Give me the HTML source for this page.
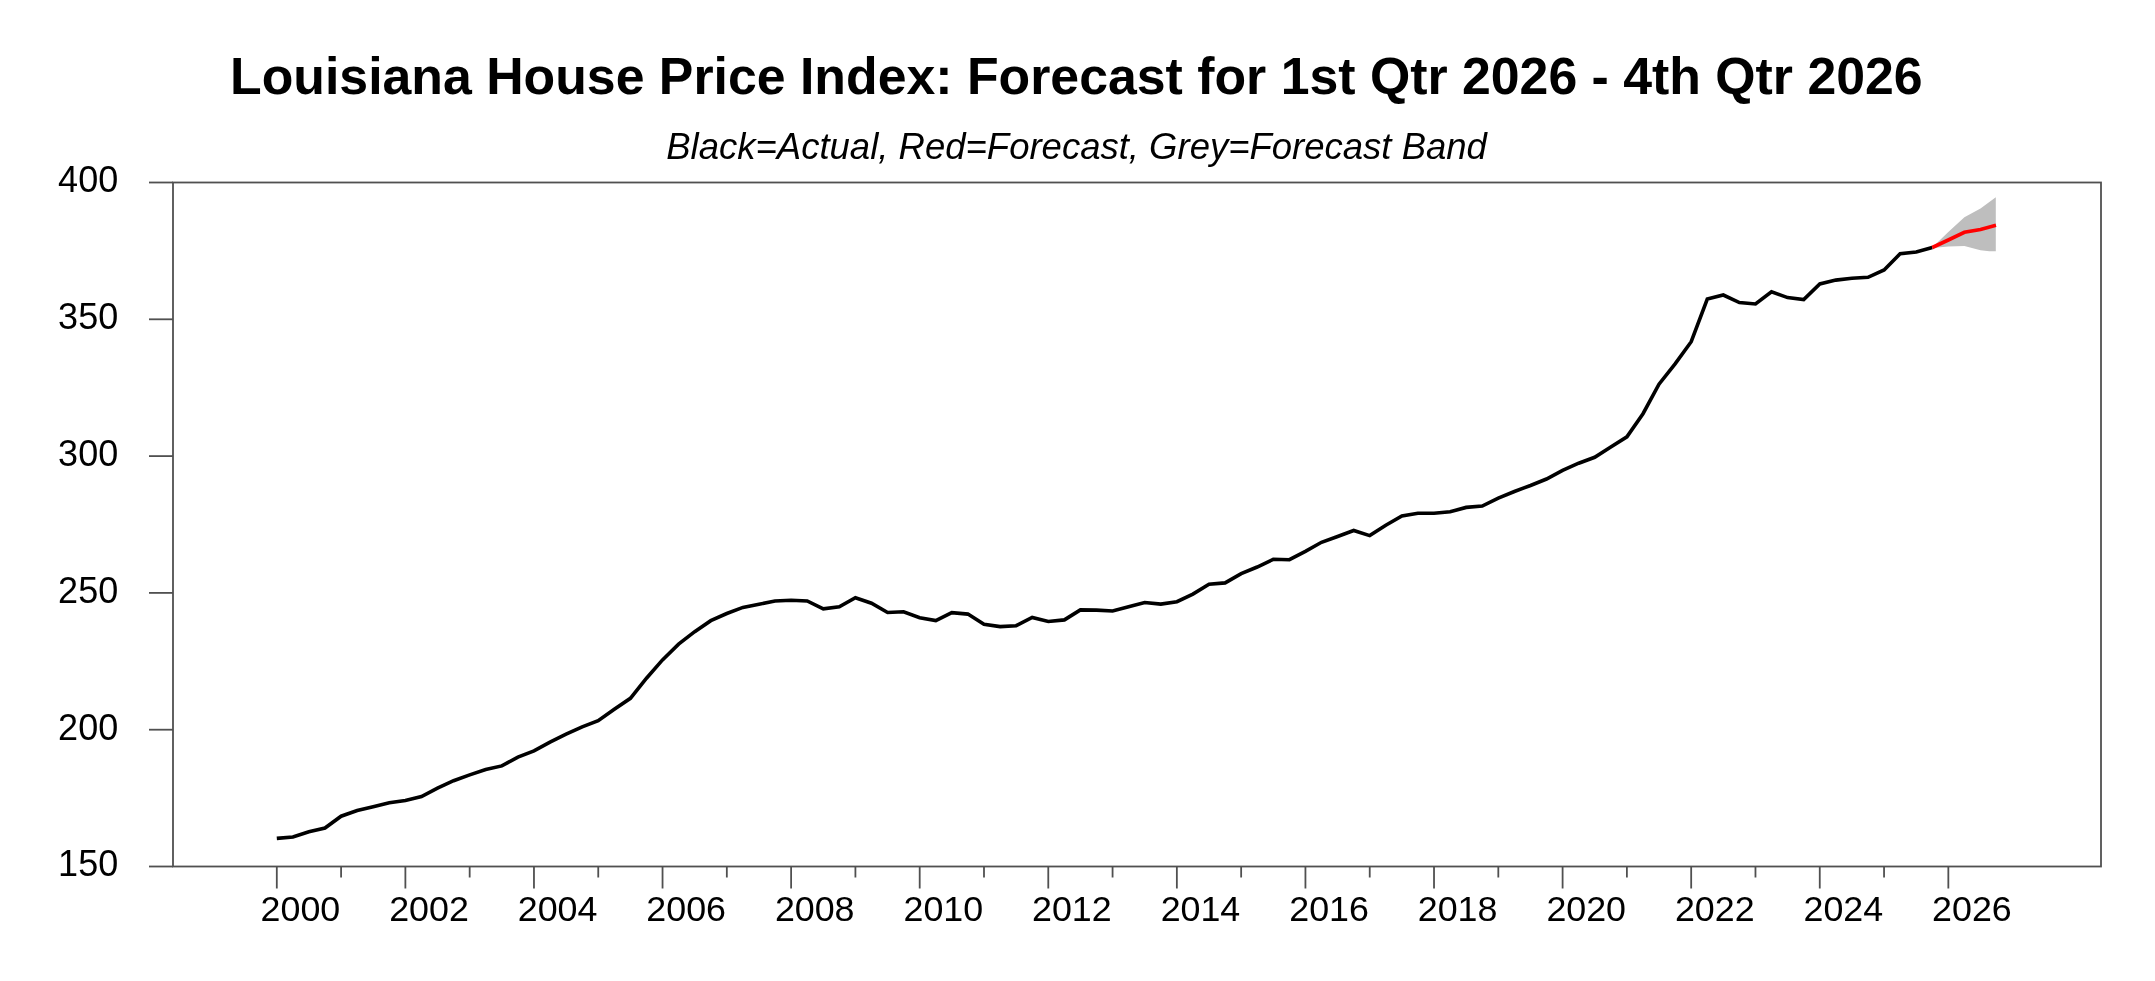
<!DOCTYPE html>
<html><head><meta charset="utf-8"><style>
html,body{margin:0;padding:0;background:#fff;width:2155px;height:981px;overflow:hidden}
svg{display:block;will-change:transform}
text{font-family:"Liberation Sans",sans-serif;fill:#000}
.title{font-weight:bold;font-size:51.8px}
.sub{font-style:italic;font-size:36.5px}
.yl{font-size:36px}
.xl{font-size:35.8px}
</style></head><body>
<svg width="2155" height="981" viewBox="0 0 2155 981">
<rect x="173" y="182.5" width="1928" height="684.0" fill="none" stroke="#505050" stroke-width="1.8"/>
<line x1="149" y1="866.50" x2="173" y2="866.50" stroke="#505050" stroke-width="1.8"/>
<text class="yl" x="118.2" y="876.30" text-anchor="end">150</text>
<line x1="149" y1="729.70" x2="173" y2="729.70" stroke="#505050" stroke-width="1.8"/>
<text class="yl" x="118.2" y="739.50" text-anchor="end">200</text>
<line x1="149" y1="592.90" x2="173" y2="592.90" stroke="#505050" stroke-width="1.8"/>
<text class="yl" x="118.2" y="602.70" text-anchor="end">250</text>
<line x1="149" y1="456.10" x2="173" y2="456.10" stroke="#505050" stroke-width="1.8"/>
<text class="yl" x="118.2" y="465.90" text-anchor="end">300</text>
<line x1="149" y1="319.30" x2="173" y2="319.30" stroke="#505050" stroke-width="1.8"/>
<text class="yl" x="118.2" y="329.10" text-anchor="end">350</text>
<line x1="149" y1="182.50" x2="173" y2="182.50" stroke="#505050" stroke-width="1.8"/>
<text class="yl" x="118.2" y="192.30" text-anchor="end">400</text>
<line x1="276.80" y1="866.5" x2="276.80" y2="888.5" stroke="#505050" stroke-width="1.8"/>
<text class="xl" x="300.40" y="921.3" text-anchor="middle">2000</text>
<line x1="341.09" y1="866.5" x2="341.09" y2="877.5" stroke="#505050" stroke-width="1.8"/>
<line x1="405.38" y1="866.5" x2="405.38" y2="888.5" stroke="#505050" stroke-width="1.8"/>
<text class="xl" x="428.98" y="921.3" text-anchor="middle">2002</text>
<line x1="469.67" y1="866.5" x2="469.67" y2="877.5" stroke="#505050" stroke-width="1.8"/>
<line x1="533.96" y1="866.5" x2="533.96" y2="888.5" stroke="#505050" stroke-width="1.8"/>
<text class="xl" x="557.56" y="921.3" text-anchor="middle">2004</text>
<line x1="598.25" y1="866.5" x2="598.25" y2="877.5" stroke="#505050" stroke-width="1.8"/>
<line x1="662.54" y1="866.5" x2="662.54" y2="888.5" stroke="#505050" stroke-width="1.8"/>
<text class="xl" x="686.14" y="921.3" text-anchor="middle">2006</text>
<line x1="726.83" y1="866.5" x2="726.83" y2="877.5" stroke="#505050" stroke-width="1.8"/>
<line x1="791.12" y1="866.5" x2="791.12" y2="888.5" stroke="#505050" stroke-width="1.8"/>
<text class="xl" x="814.72" y="921.3" text-anchor="middle">2008</text>
<line x1="855.41" y1="866.5" x2="855.41" y2="877.5" stroke="#505050" stroke-width="1.8"/>
<line x1="919.70" y1="866.5" x2="919.70" y2="888.5" stroke="#505050" stroke-width="1.8"/>
<text class="xl" x="943.30" y="921.3" text-anchor="middle">2010</text>
<line x1="983.99" y1="866.5" x2="983.99" y2="877.5" stroke="#505050" stroke-width="1.8"/>
<line x1="1048.28" y1="866.5" x2="1048.28" y2="888.5" stroke="#505050" stroke-width="1.8"/>
<text class="xl" x="1071.88" y="921.3" text-anchor="middle">2012</text>
<line x1="1112.57" y1="866.5" x2="1112.57" y2="877.5" stroke="#505050" stroke-width="1.8"/>
<line x1="1176.86" y1="866.5" x2="1176.86" y2="888.5" stroke="#505050" stroke-width="1.8"/>
<text class="xl" x="1200.46" y="921.3" text-anchor="middle">2014</text>
<line x1="1241.15" y1="866.5" x2="1241.15" y2="877.5" stroke="#505050" stroke-width="1.8"/>
<line x1="1305.44" y1="866.5" x2="1305.44" y2="888.5" stroke="#505050" stroke-width="1.8"/>
<text class="xl" x="1329.04" y="921.3" text-anchor="middle">2016</text>
<line x1="1369.73" y1="866.5" x2="1369.73" y2="877.5" stroke="#505050" stroke-width="1.8"/>
<line x1="1434.02" y1="866.5" x2="1434.02" y2="888.5" stroke="#505050" stroke-width="1.8"/>
<text class="xl" x="1457.62" y="921.3" text-anchor="middle">2018</text>
<line x1="1498.31" y1="866.5" x2="1498.31" y2="877.5" stroke="#505050" stroke-width="1.8"/>
<line x1="1562.60" y1="866.5" x2="1562.60" y2="888.5" stroke="#505050" stroke-width="1.8"/>
<text class="xl" x="1586.20" y="921.3" text-anchor="middle">2020</text>
<line x1="1626.89" y1="866.5" x2="1626.89" y2="877.5" stroke="#505050" stroke-width="1.8"/>
<line x1="1691.18" y1="866.5" x2="1691.18" y2="888.5" stroke="#505050" stroke-width="1.8"/>
<text class="xl" x="1714.78" y="921.3" text-anchor="middle">2022</text>
<line x1="1755.47" y1="866.5" x2="1755.47" y2="877.5" stroke="#505050" stroke-width="1.8"/>
<line x1="1819.76" y1="866.5" x2="1819.76" y2="888.5" stroke="#505050" stroke-width="1.8"/>
<text class="xl" x="1843.36" y="921.3" text-anchor="middle">2024</text>
<line x1="1884.05" y1="866.5" x2="1884.05" y2="877.5" stroke="#505050" stroke-width="1.8"/>
<line x1="1948.34" y1="866.5" x2="1948.34" y2="888.5" stroke="#505050" stroke-width="1.8"/>
<text class="xl" x="1971.94" y="921.3" text-anchor="middle">2026</text>
<polygon points="1932.3,247.5 1948.3,232.0 1964.4,217.2 1980.5,208.6 1995.8,197.2 1995.8,251.2 1989.3,251.2 1980.5,250.2 1964.4,246.1 1948.3,246.5 1932.3,248.0" fill="#bebebe"/>
<polyline points="276.8,838.4 292.9,837.0 308.9,831.7 325.0,828.0 341.1,816.2 357.2,810.6 373.2,806.7 389.3,802.8 405.4,800.5 421.5,796.6 437.5,788.2 453.6,780.7 469.7,774.9 485.7,769.6 501.8,765.9 517.9,757.1 534.0,750.9 550.0,742.1 566.1,734.2 582.2,726.8 598.2,720.7 614.3,709.3 630.4,698.3 646.5,678.2 662.5,659.9 678.6,644.2 694.7,631.7 710.8,620.7 726.8,613.5 742.9,607.4 759.0,604.3 775.0,601.0 791.1,600.3 807.2,601.0 823.3,608.8 839.3,606.7 855.4,597.7 871.5,603.2 887.6,612.5 903.6,611.8 919.7,617.8 935.8,620.6 951.8,612.7 967.9,614.1 984.0,624.2 1000.1,626.6 1016.1,625.7 1032.2,617.5 1048.3,621.5 1064.4,619.9 1080.4,609.9 1096.5,610.1 1112.6,611.0 1128.6,606.7 1144.7,602.5 1160.8,604.1 1176.9,601.7 1192.9,594.1 1209.0,584.2 1225.1,582.9 1241.2,573.7 1257.2,567.0 1273.3,559.3 1289.4,559.7 1305.4,551.3 1321.5,542.3 1337.6,536.5 1353.7,530.5 1369.7,535.6 1385.8,525.2 1401.9,515.9 1417.9,513.2 1434.0,513.2 1450.1,511.8 1466.2,507.4 1482.2,506.1 1498.3,498.2 1514.4,491.5 1530.5,485.5 1546.5,479.0 1562.6,470.3 1578.7,463.2 1594.7,457.3 1610.8,446.9 1626.9,436.9 1643.0,413.7 1659.0,384.2 1675.1,363.9 1691.2,341.7 1707.3,299.0 1723.3,295.0 1739.4,302.6 1755.5,304.0 1771.5,291.8 1787.6,297.6 1803.7,299.6 1819.8,284.0 1835.8,280.1 1851.9,278.3 1868.0,277.3 1884.1,270.0 1900.1,253.8 1916.2,252.1 1932.3,247.5" fill="none" stroke="#000" stroke-width="3.6" stroke-linejoin="miter"/>
<polyline points="1932.3,247.5 1948.3,240.0 1964.4,232.3 1980.5,229.4 1996.0,225.3" fill="none" stroke="#ff0000" stroke-width="3.6" stroke-linejoin="miter"/>
<text class="title" x="1076.35" y="94" text-anchor="middle">Louisiana House Price Index: Forecast for 1st Qtr 2026 - 4th Qtr 2026</text>
<text class="sub" x="1076.6" y="159" text-anchor="middle">Black=Actual, Red=Forecast, Grey=Forecast Band</text>
</svg>
</body></html>
